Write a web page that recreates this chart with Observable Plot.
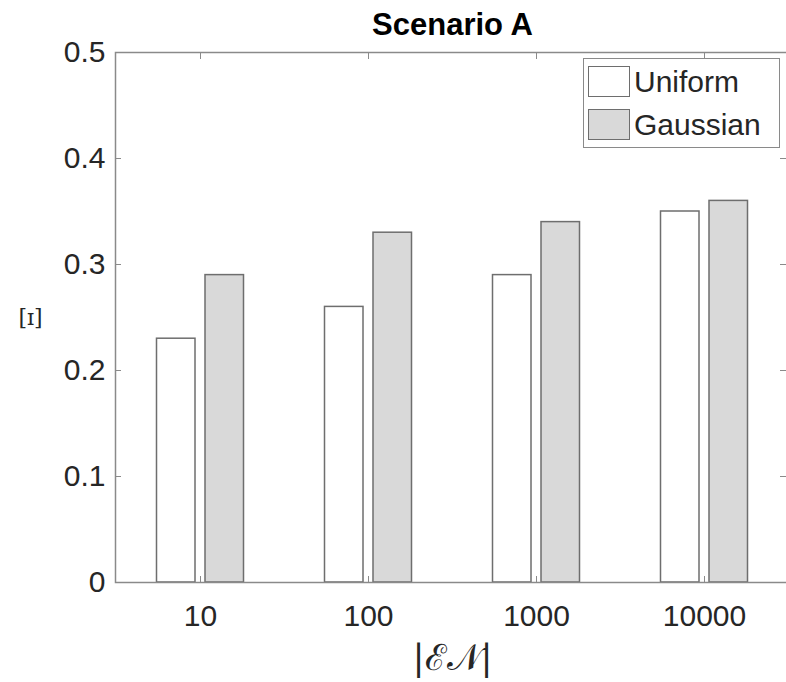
<!DOCTYPE html>
<html>
<head>
<meta charset="utf-8">
<script src="https://cdn.jsdelivr.net/npm/d3@7"></script>
<script src="https://cdn.jsdelivr.net/npm/@observablehq/plot@0.6"></script>
<style>
  html, body { margin: 0; padding: 0; background: #fff; }
  #wrap { position: relative; width: 786px; height: 682px; overflow: hidden; font-family: "Liberation Sans", Arial, sans-serif; }
  #legend { position: absolute; left: 583px; top: 58px; width: 195px; height: 88px; border: 1.5px solid #8a8a8a; background: #fff; }
  .row { position: absolute; left: 4px; height: 33px; display: flex; align-items: center; }
  .patch { width: 42px; height: 31px; border: 1.5px solid #6e6e6e; box-sizing: border-box; margin-right: 4px; }
  .lab { font-size: 30px; color: #262626; line-height: 33px; }
</style>
</head>
<body>
<div id="wrap"></div>
<script>
const categories = ["10", "100", "1000", "10000"];
const uniformValues = [0.23, 0.26, 0.29, 0.35];
const gaussianValues = [0.29, 0.33, 0.34, 0.36];
const seriesNames = ["Uniform", "Gaussian"];
const yTicks = [0, 0.1, 0.2, 0.3, 0.4, 0.5];

const uniform = categories.map((c, i) => ({cat: c, v: uniformValues[i]}));
const gaussian = categories.map((c, i) => ({cat: c, v: gaussianValues[i]}));

const axisColor = "#8a8a8a";
const edgeColor = "#6e6e6e";
const textColor = "#262626";
const font = "Liberation Sans, Arial, sans-serif";

const chart = Plot.plot({
  width: 786,
  height: 682,
  marginLeft: 115,
  marginRight: -3,
  marginTop: 52,
  marginBottom: 100,
  style: {fontFamily: font, color: textColor, background: "white"},
  x: {type: "band", domain: categories, padding: 0},
  y: {domain: [0, 0.5]},
  marks: [
    Plot.barY(uniform, {x: "cat", y: "v", fill: "white", stroke: edgeColor, strokeWidth: 1.5, insetLeft: 64.75, insetRight: 64.75, dx: -24.25}),
    Plot.barY(gaussian, {x: "cat", y: "v", fill: "#d9d9d9", stroke: edgeColor, strokeWidth: 1.5, insetLeft: 64.75, insetRight: 64.75, dx: 24.25}),
    Plot.frame({stroke: axisColor, strokeWidth: 1.5}),
    // inward tick marks
    Plot.axisX(categories, {anchor: "bottom", tickSize: 6, dy: -6, text: null, stroke: axisColor, label: null}),
    Plot.axisX(categories, {anchor: "top", tickSize: 6, dy: 6, text: null, stroke: axisColor, label: null}),
    Plot.axisY(yTicks, {anchor: "left", tickSize: 6, dx: 6, text: null, stroke: axisColor, label: null}),
    Plot.axisY(yTicks, {anchor: "right", tickSize: 10, dx: -10, text: null, stroke: axisColor, label: null}),
    // tick labels
    Plot.axisX(categories, {anchor: "bottom", tickSize: 0, tickPadding: 22, fontSize: 30, fill: textColor, label: null}),
    Plot.axisY(yTicks, {anchor: "left", tickSize: 0, tickPadding: 10, fontSize: 30, fill: textColor, label: null,
      tickFormat: d => d === 0 ? "0" : d.toFixed(1)}),
    // titles
    Plot.text(["Scenario A"], {frameAnchor: "top", lineAnchor: "middle", dy: -27, fontSize: 31, fontWeight: "bold", fill: "black"}),
    Plot.text(["[\u026A]"], {frameAnchor: "left", dx: -85, fontSize: 22, fontFamily: "DejaVu Serif, serif", fill: textColor, textAnchor: "middle"}),
    Plot.text(["|\u2130\uD835\uDCA9|"], {frameAnchor: "bottom", lineAnchor: "middle", dy: 76, fontSize: 36, fontFamily: "DejaVu Serif, serif", fill: textColor})
  ]
});

const wrap = document.getElementById("wrap");
wrap.appendChild(chart);

const legend = document.createElement("div");
legend.id = "legend";
const fills = ["#ffffff", "#d9d9d9"];
seriesNames.forEach((name, i) => {
  const row = document.createElement("div");
  row.className = "row";
  row.style.top = (6 + i * 43) + "px";
  const p = document.createElement("div");
  p.className = "patch";
  p.style.background = fills[i];
  const t = document.createElement("span");
  t.className = "lab";
  t.textContent = name;
  row.appendChild(p);
  row.appendChild(t);
  legend.appendChild(row);
});
wrap.appendChild(legend);
</script>
</body>
</html>
